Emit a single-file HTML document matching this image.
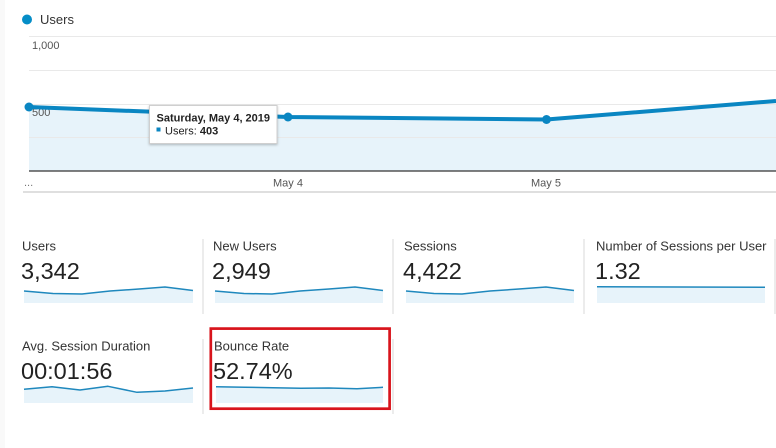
<!DOCTYPE html>
<html><head><meta charset="utf-8"><style>
html,body{margin:0;padding:0;background:#fff;}
svg{display:block;font-family:"Liberation Sans",Arial,sans-serif;}
</style></head><body>
<svg width="776" height="448" viewBox="0 0 776 448" xmlns="http://www.w3.org/2000/svg">
<defs>
<filter id="sh" x="-10%" y="-20%" width="120%" height="150%"><feDropShadow dx="0" dy="1" stdDeviation="1.2" flood-color="#000" flood-opacity="0.25"/></filter>
</defs>
<rect x="0" y="0" width="5" height="448" fill="#f9f9f9"/>
<!-- legend -->
<circle cx="27" cy="19.5" r="5" fill="#058dc7"/>
<text x="40" y="24" font-size="13" fill="#333">Users</text>
<!-- main chart fill -->
<path d="M29,107 L288,117 L546.5,119.5 L776,101 L776,171 L29,171 Z" fill="#e7f3fa"/>
<!-- gridlines -->
<g stroke="#e9e9e9" stroke-width="1">
<line x1="29" y1="36.5" x2="776" y2="36.5"/>
<line x1="29" y1="70.5" x2="776" y2="70.5"/>
<line x1="29" y1="104.5" x2="776" y2="104.5"/>
<line x1="29" y1="137.5" x2="776" y2="137.5"/>
</g>
<line x1="29" y1="171" x2="776" y2="171" stroke="#333" stroke-width="1.3"/>
<line x1="23" y1="192" x2="776" y2="192" stroke="#ccc" stroke-width="1.3"/>
<text x="32" y="49" font-size="11" fill="#555">1,000</text>
<text x="32" y="116" font-size="11" fill="#555">500</text>
<text x="24" y="186" font-size="11" fill="#777">...</text>
<text x="288" y="186.5" font-size="11" fill="#555" text-anchor="middle">May 4</text>
<text x="546" y="186.5" font-size="11" fill="#555" text-anchor="middle">May 5</text>
<!-- main line -->
<polyline points="29,107 288,117 546.5,119.5 776,101" fill="none" stroke="#0a86c2" stroke-width="4" stroke-linejoin="round"/>
<circle cx="29" cy="107" r="4.5" fill="#0a86c2"/>
<circle cx="288" cy="117" r="4.5" fill="#0a86c2"/>
<circle cx="546.5" cy="119.5" r="4.5" fill="#0a86c2"/>
<!-- tooltip -->
<rect x="149.5" y="105.5" width="127.5" height="38" fill="#fff" stroke="#cfcfcf" stroke-width="1" filter="url(#sh)"/>
<text x="156.5" y="121.5" font-size="11" font-weight="bold" fill="#222">Saturday, May 4, 2019</text>
<rect x="156.5" y="127.5" width="4" height="4" fill="#0a86c2"/>
<text x="165" y="134.7" font-size="11" fill="#222">Users: <tspan font-weight="bold">403</tspan></text>

<!-- card separators -->
<g stroke="#d8d8d8" stroke-width="1">
<line x1="203" y1="239" x2="203" y2="314"/>
<line x1="393" y1="239" x2="393" y2="314"/>
<line x1="584" y1="239" x2="584" y2="314"/>
<line x1="775" y1="239" x2="775" y2="314"/>
<line x1="203" y1="339" x2="203" y2="414"/>
<line x1="393" y1="339" x2="393" y2="414"/>
</g>

<!-- row 1 cards -->
<g font-size="13" fill="#333">
<text x="22" y="250.5">Users</text>
<text x="213" y="250.5">New Users</text>
<text x="404" y="250.5">Sessions</text>
<text x="596" y="250.5">Number of Sessions per User</text>
<text x="22" y="350.5">Avg. Session Duration</text>
<text x="214" y="350.5">Bounce Rate</text>
</g>
<g font-size="23.5" fill="#222">
<text x="21" y="279">3,342</text>
<text x="212" y="279">2,949</text>
<text x="403" y="279">4,422</text>
<text x="595" y="279">1.32</text>
<text x="21" y="379">00:01:56</text>
<text x="213" y="379">52.74%</text>
</g>

<!-- sparklines -->
<g fill="#e7f3fa">
<path d="M24,291 L53,293.5 L82,294 L110,291 L139,289 L165,287 L193,290.5 L193,303 L24,303 Z"/>
<path d="M215,291 L244,293.5 L272,294 L300,291 L329,289 L355,287 L383,290.5 L383,303 L215,303 Z"/>
<path d="M406,291 L434,293.5 L462,294 L490,291 L519,289 L546,287 L574,290.5 L574,303 L406,303 Z"/>
<path d="M597,286.7 L765,287.2 L765,303 L597,303 Z"/>
<path d="M24,389.3 L52,386.7 L80,390 L108,386.3 L137,392.3 L165,391 L193,388 L193,403 L24,403 Z"/>
<path d="M216,386.7 L245,387.2 L273,387.7 L301,388.2 L329,388 L357,388.7 L383,387.3 L383,403 L216,403 Z"/>
</g>
<g fill="none" stroke="#1f88bd" stroke-width="1.5" stroke-linejoin="round">
<polyline points="24,291 53,293.5 82,294 110,291 139,289 165,287 193,290.5"/>
<polyline points="215,291 244,293.5 272,294 300,291 329,289 355,287 383,290.5"/>
<polyline points="406,291 434,293.5 462,294 490,291 519,289 546,287 574,290.5"/>
<polyline points="597,286.7 765,287.2"/>
<polyline points="24,389.3 52,386.7 80,390 108,386.3 137,392.3 165,391 193,388"/>
<polyline points="216,386.7 245,387.2 273,387.7 301,388.2 329,388 357,388.7 383,387.3"/>
</g>

<!-- red highlight -->
<rect x="210.8" y="328.6" width="178.8" height="80.1" fill="none" stroke="#d8141c" stroke-width="2.7"/>
</svg>
</body></html>
